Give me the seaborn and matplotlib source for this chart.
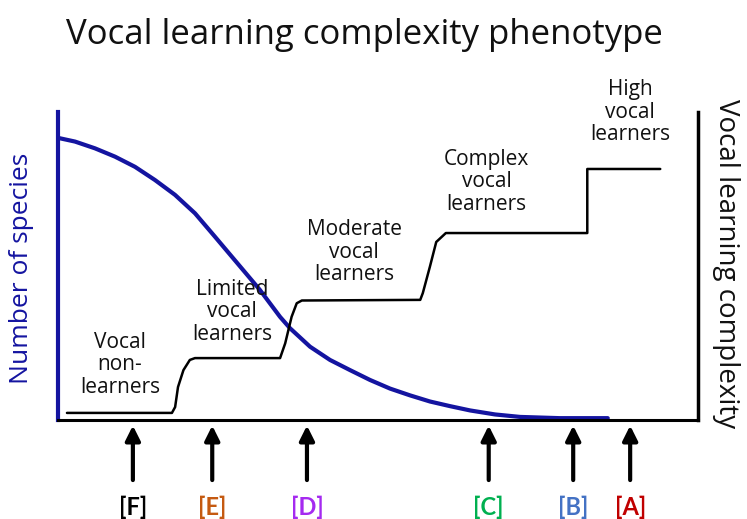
import numpy as np
import pandas as pd
import seaborn as sns
import matplotlib.pyplot as plt

# Conceptual values (x: position along phenotype axis, y: 0-100)
curve_x = [0, 2.66, 5.78, 8.91, 12.03, 15.16, 18.28, 21.41, 24.53, 27.66,
           31.56, 34.69, 36.25, 39.38, 42.5, 45.63, 48.75, 51.88, 55.0,
           58.13, 61.25, 64.4, 68.3, 72.2, 78.4, 85.9]
curve_y = [91.6, 90.4, 88.2, 85.5, 82.2, 77.9, 73.1, 67.1, 59.5, 51.8,
           42.2, 33.5, 29.8, 23.8, 19.5, 16.2, 13.0, 10.2, 8.0,
           6.0, 4.5, 3.1, 1.8, 1.0, 0.6, 0.6]

step_x = [1.4, 17.8, 18.3, 18.75, 19.6, 20.6, 21.4, 34.7, 35.5, 36.5, 37.3, 38.1,
          56.6, 57.0, 58.1, 59.1, 60.6, 82.7, 82.7, 94.1]
step_y = [2.3, 2.3, 4.2, 10.7, 16.2, 19.5, 20.1, 20.1, 24.9, 33.5, 37.9, 38.8,
          39.0, 41.2, 49.7, 57.8, 60.7, 60.7, 81.5, 81.5]

stage_names = ['Vocal\nnon-\nlearners', 'Limited\nvocal\nlearners',
               'Moderate\nvocal\nlearners', 'Complex\nvocal\nlearners',
               'High\nvocal\nlearners']
stage_x = [9.7, 27.2, 46.3, 67.0, 89.4]
stage_y = [17.9, 35.1, 54.5, 77.3, 100.0]

arrow_x = [11.7, 24.1, 38.9, 67.3, 80.5, 89.4]
arrow_labels = ['[F]', '[E]', '[D]', '[C]', '[B]', '[A]']
arrow_colors = ['#000000', '#c55a11', '#a52af0', '#00b050', '#4472c4', '#c00000']

blue = '#1414a0'

sns.set_style('white')
plt.rcParams['font.family'] = ['Open Sans', 'DejaVu Sans']

fig = plt.figure(figsize=(7.47, 5.19), dpi=100)
ax = fig.add_axes([58 / 747, 99 / 519, 640 / 747, 308 / 519])

curve = pd.DataFrame({'x': curve_x, 'y': curve_y})
steps = pd.DataFrame({'x': step_x, 'y': step_y})
sns.lineplot(data=curve, x='x', y='y', color=blue, lw=3, sort=False,
             estimator=None, solid_joinstyle='round', ax=ax)
sns.lineplot(data=steps, x='x', y='y', color='black', lw=1.8, sort=False,
             estimator=None, ax=ax)

ax.set_xlim(0, 100)
ax.set_ylim(0, 100)
ax.set_xticks([])
ax.set_yticks([])
ax.set_xlabel('')
ax.set_ylabel('')
ax.spines['top'].set_visible(False)
ax.spines['left'].set_color(blue)
ax.spines['left'].set_linewidth(3)
ax.spines['right'].set_color('black')
ax.spines['right'].set_linewidth(2.5)
ax.spines['bottom'].set_color('black')
ax.spines['bottom'].set_linewidth(2.2)

for name, sx, sy in zip(stage_names, stage_x, stage_y):
    ax.text(sx, sy, name, ha='center', va='center', fontsize=15,
            linespacing=1.08, color='#111111', clip_on=False)

for xa, lab, col in zip(arrow_x, arrow_labels, arrow_colors):
    ax.annotate('', xy=(xa, -1.8), xytext=(xa, -19.5),
                arrowprops=dict(arrowstyle='-|>', color='black', lw=3,
                                mutation_scale=22, shrinkA=0, shrinkB=0),
                annotation_clip=False)
    ax.text(xa, -28.3, lab, ha='center', va='center', fontsize=17,
            fontweight='bold', color=col, family=['Lato', 'DejaVu Sans'],
            clip_on=False)

fig.text(0.488, 0.933, 'Vocal learning complexity phenotype', ha='center',
         va='center', fontsize=25, color='#111111')
fig.text(0.029, 0.483, 'Number of species', rotation=90, ha='center',
         va='center', fontsize=19, color=blue)
fig.text(0.972, 0.493, 'Vocal learning complexity', rotation=-90,
         ha='center', va='center', fontsize=20, color='#111111')

fig.savefig('out.png', dpi=100)
